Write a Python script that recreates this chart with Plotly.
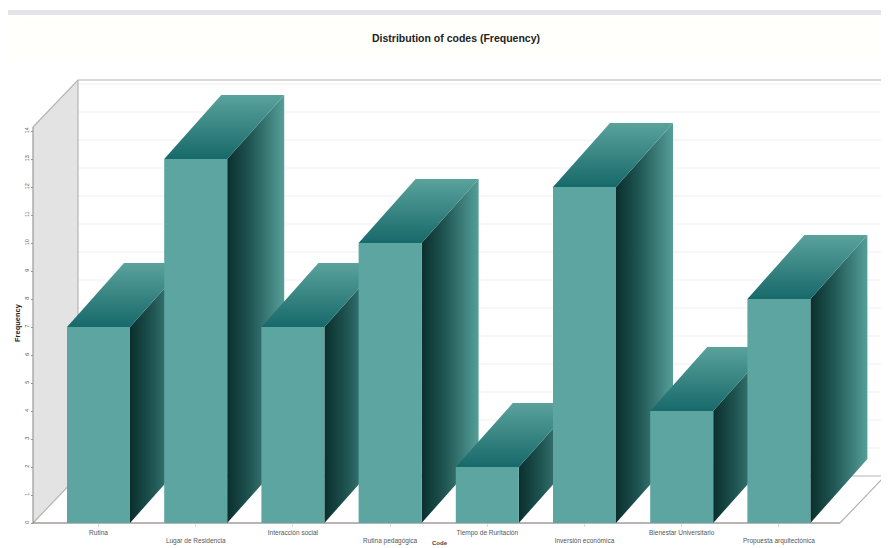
import plotly.graph_objects as go

categories = ["Rutina", "Lugar de Residencia", "Interacción social", "Rutina pedagógica",
              "Tiempo de Ruritación", "Inversión económica", "Bienestar Universitario",
              "Propuesta arquitectónica"]
values = [7, 13, 7, 10, 2, 12, 4, 8]
y_ticks = list(range(15))
title = "Distribution of codes (Frequency)"

PAGE = 8  # the page's own margin round the plot
W, H = 889 - PAGE, 548 - PAGE
X_PER_CAT, Y_PER_UNIT = 97.2, 28.0
LEFT, RIGHT, BOTTOM, TOP = 33, 840, 523, 127
x0_px = 98.5
half = 31.5 / X_PER_CAT
bar_dx, bar_dy = 57 / X_PER_CAT, 64 / Y_PER_UNIT
wall_dx, wall_dy = 45 / X_PER_CAT, 47 / Y_PER_UNIT
xr = [(LEFT - x0_px) / X_PER_CAT, (RIGHT - x0_px) / X_PER_CAT]
yr = [0, (BOTTOM - TOP) / Y_PER_UNIT]
# the axes span the whole page so the depth of the bars is never clipped
full_x = [(PAGE - x0_px) / X_PER_CAT, (889 - x0_px) / X_PER_CAT]
full_y = [(BOTTOM - 548) / Y_PER_UNIT, (BOTTOM - PAGE) / Y_PER_UNIT]

FRONT = "#5ca5a0"
SIDE = [[0, "#0a2f2d"], [0.4, "#1f5552"], [1, "#559f99"]]
ROOF = [[0, "#17696a"], [1, "#5aa29c"]]


def poly(xs, ys, **kw):
    return go.Scatter(x=xs + xs[:1], y=ys + ys[:1], mode="lines", line=dict(width=0),
                      fill="toself", hoverinfo="skip", showlegend=False, **kw)


def lines(xs, ys, color, width):
    return go.Scatter(x=xs, y=ys, mode="lines", line=dict(color=color, width=width),
                      hoverinfo="skip", showlegend=False)


fig = go.Figure()

# left wall
fig.add_trace(poly([xr[0], xr[0] + wall_dx, xr[0] + wall_dx, xr[0]],
                   [0, wall_dy, yr[1] + wall_dy, yr[1]], fillcolor="#e3e3e3"))

# back wall grid lines
gx, gy = [], []
for t in y_ticks[1:]:
    gx += [xr[0] + wall_dx, xr[1] + wall_dx, None]
    gy += [t + wall_dy, t + wall_dy, None]
fig.add_trace(lines(gx, gy, "#efefef", 1))

# wall and floor outline
ox = [xr[0], xr[0] + wall_dx, xr[1] + wall_dx, xr[1], None,
      xr[0] + wall_dx, xr[0] + wall_dx, None,
      xr[1] + wall_dx, xr[1] + wall_dx, None,
      xr[0], xr[0] + wall_dx, xr[1] + wall_dx]
oy = [0, wall_dy, wall_dy, 0, None,
      wall_dy, yr[1] + wall_dy, None,
      wall_dy, yr[1] + wall_dy, None,
      yr[1], yr[1] + wall_dy, yr[1] + wall_dy]
fig.add_trace(lines(ox, oy, "#b4b4b4", 1.2))

# front axis lines
fig.add_trace(lines([xr[0], xr[0]], [0, yr[1]], "#999999", 1.2))
fig.add_trace(lines([xr[0], xr[1]], [0, 0], "#7a6a66", 1.2))

# bars, drawn left to right so each one hides the depth of the previous one
for i, v in enumerate(values):
    l, r = i - half, i + half
    fig.add_trace(poly([r, r + bar_dx, r + bar_dx, r], [0, bar_dy, v + bar_dy, v],
                       fillgradient=dict(type="horizontal", colorscale=SIDE)))
    fig.add_trace(poly([l, r, r + bar_dx, l + bar_dx], [v, v, v + bar_dy, v + bar_dy],
                       fillgradient=dict(type="vertical", colorscale=ROOF)))
    fig.add_trace(poly([l, r, r, l], [0, 0, v, v], fillcolor=FRONT))

# staggered category labels
ticktext = [c if i % 2 == 0 else " <br>" + c for i, c in enumerate(categories)]

fig.update_layout(
    width=W, height=H, autosize=False,
    margin=dict(l=0, r=0, t=0, b=0),
    paper_bgcolor="#ffffff", plot_bgcolor="rgba(0,0,0,0)",
    showlegend=False,
    font=dict(family="Liberation Sans", color="#555555", size=6),
    title=dict(text="<b>" + title + "</b>", x=(456 - PAGE) / W, xanchor="center",
               y=1 - (38 - PAGE) / H, yanchor="middle",
               font=dict(family="Liberation Sans", size=10.5, color="#222222")),
    xaxis=dict(domain=[0, 1], range=full_x, anchor="free", position=(548 - BOTTOM) / H,
               tickmode="array", tickvals=list(range(len(categories))), ticktext=ticktext, tickangle=0,
               showgrid=False, zeroline=False, showline=False,
               ticks="outside", ticklen=3, tickcolor="#dddddd", layer="below traces",
               tickfont=dict(size=6.5, color="#555555")),
    yaxis=dict(domain=[0, 1], range=full_y, anchor="free", position=(LEFT - PAGE) / W,
               tickmode="array", tickvals=y_ticks, ticktext=[str(t) for t in y_ticks], tickangle=-90,
               showgrid=False, zeroline=False, showline=False,
               ticks="outside", ticklen=2, tickcolor="#999999", layer="below traces",
               tickfont=dict(size=5.5, color="#555555")),
    annotations=[
        dict(text="<b>Frequency</b>", textangle=-90, xref="paper", yref="paper",
             x=(17 - PAGE) / W, xanchor="center", y=1 - (323 - PAGE) / H, yanchor="middle",
             showarrow=False, font=dict(size=7.5, color="#222222")),
        dict(text="<b>Code</b>", xref="paper", yref="paper", x=(440 - PAGE) / W,
             y=1 - (543 - PAGE) / H, yanchor="middle", showarrow=False,
             font=dict(size=6, color="#444444")),
    ],
    shapes=[
        dict(type="rect", xref="paper", yref="paper", x0=0, x1=1,
             y0=1 - (15 - PAGE) / H, y1=1 - (10 - PAGE) / H,
             fillcolor="#e3e3e8", line=dict(width=0), layer="below"),
        dict(type="rect", xref="paper", yref="paper", x0=0, x1=1,
             y0=1 - (60 - PAGE) / H, y1=1 - (17 - PAGE) / H,
             fillcolor="#fffffb", line=dict(width=0), layer="below"),
    ],
)

fig.write_html("out.html")
